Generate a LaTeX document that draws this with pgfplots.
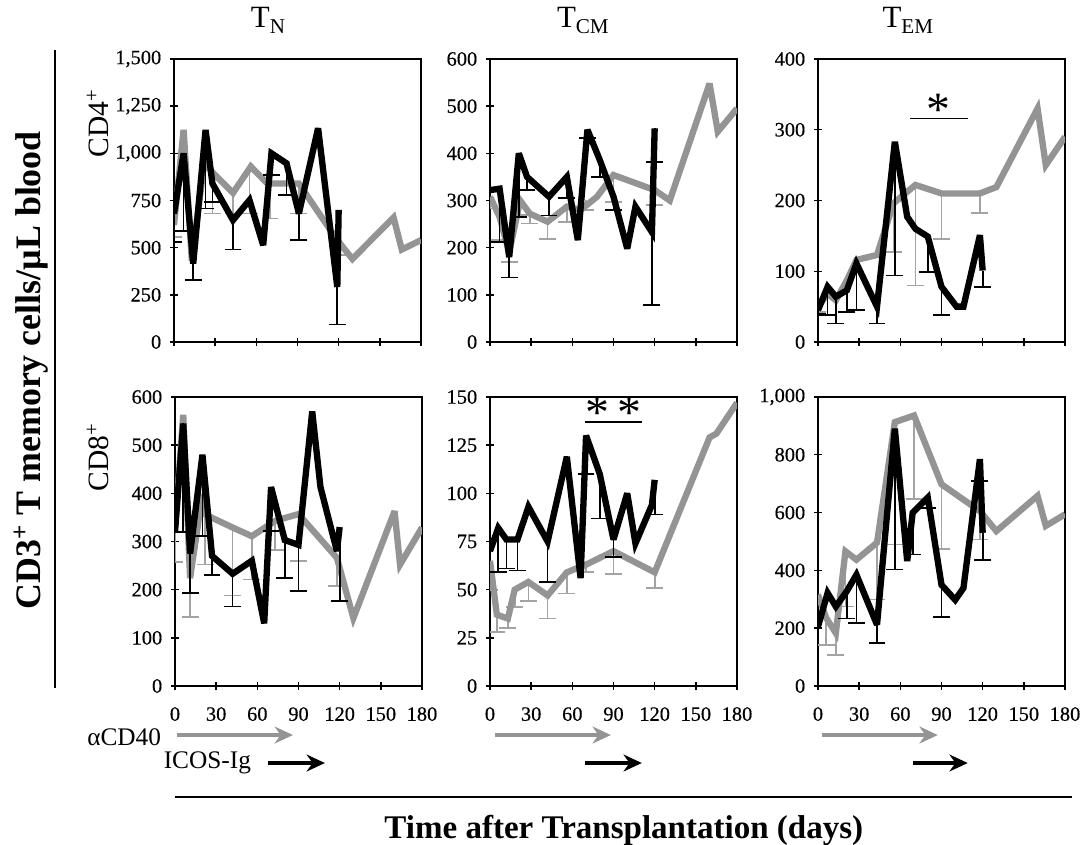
\documentclass[border=0pt]{standalone}
\usepackage{fontspec}
\setmainfont{Liberation Serif}
\newfontfamily\tickfont{Liberation Serif}[FakeBold=0.4]
\usepackage{pgfplots}
\pgfplotsset{compat=1.18}
\usetikzlibrary{arrows.meta}

\definecolor{gline}{gray}{0.58}
\definecolor{gerr}{gray}{0.64}

\pgfplotsset{
  panel/.style={
    scale only axis, width=6.175cm,
    xmin=0, xmax=180, xtick={0,30,...,180},
    tick pos=left, tick align=center,
    major tick length=0.18cm,
    tick style={black, line width=1pt},
    axis line style={black, line width=1.2pt},
    ticklabel style={font=\tickfont\fontsize{14.5}{14.5}\selectfont},
    yticklabel style={xshift=-3pt},
    xticklabel style={yshift=-9pt},
    /pgf/number format/assume math mode=true,
    /pgf/number format/1000 sep={,},
  },
  toprow/.style={panel, height=7.075cm, xticklabels={}},
  botrow/.style={panel, height=7.225cm},
  gl/.style={gline, line width=4.5pt, line join=miter, miter limit=4, mark=none},
  bl/.style={black, line width=4.5pt, line join=miter, miter limit=4, mark=none},
  ge/.style={draw=none, forget plot,
    error bars/.cd, y dir=minus, y explicit, error mark=-,
    error bar style={draw=gerr, line width=1.2pt},
    error mark options={draw=gerr, rotate=90, mark size=6pt, line width=1.2pt}},
  be/.style={draw=none, forget plot,
    error bars/.cd, y dir=minus, y explicit, error mark=-,
    error bar style={draw=black, line width=1.2pt},
    error mark options={draw=black, rotate=90, mark size=6pt, line width=1.2pt}},
}

\begin{document}
\begin{tikzpicture}

% ---------- Panel 1: CD4 TN ----------
\begin{axis}[toprow, at={(4.35cm,12.575cm)}, anchor=south west,
  ymin=0, ymax=1500, ytick={0,250,...,1500}]
\addplot[ge] coordinates {(0,620) +- (0,63) (28,900) +- (0,219) (43,790) +- (0,109)
  (55,930) +- (0,249) (70,840) +- (0,185) (91,840) +- (0,159) (121,540) +- (0,80)};
\addplot[gl] coordinates {(0,620) (7,1124) (13,430) (22,950) (28,900) (43,790) (56,930)
  (68,840) (80,840) (91,840) (104,700) (119,540) (130,440) (160,660) (166,490) (180,540)};
\addplot[be] coordinates {(0,680) +- (0,150) (7,1000) +- (0,411) (14,415) +- (0,88)
  (23,1124) +- (0,416) (28,840) +- (0,97) (43,646) +- (0,156) (71,1000) +- (0,115)
  (82,947) +- (0,168) (91,681) +- (0,141) (119,292) +- (0,200)};
\addplot[bl] coordinates {(0,680) (7,1000) (14,415) (23,1124) (28,840) (43,646) (55,752)
  (65,513) (71,1000) (82,947) (91,681) (105,1133) (119,292) (120,700)};
\end{axis}

% ---------- Panel 2: CD4 TCM ----------
\begin{axis}[toprow, at={(12.25cm,12.575cm)}, anchor=south west,
  ymin=0, ymax=600, ytick={0,100,...,600}]
\addplot[ge] coordinates {(0,308) +- (0,25) (7,265) +- (0,49) (14,190) +- (0,20)
  (22,300) +- (0,31) (29,272) +- (0,21) (42,255) +- (0,37) (56,287) +- (0,32)
  (70,300) +- (0,20) (90,354) +- (0,57) (120,322) +- (0,32)};
\addplot[gl] coordinates {(0,308) (7,265) (14,190) (22,300) (29,272) (42,255) (56,287)
  (66,280) (78,308) (90,354) (120,322) (131,300) (160,548) (166,446) (180,495)};
\addplot[be] coordinates {(7,325) +- (0,113) (14,180) +- (0,43) (21,400) +- (0,135)
  (27,350) +- (0,28) (43,308) +- (0,40) (56,350) +- (0,44) (71,450) +- (0,18)
  (80,386) +- (0,36) (90,308) +- (0,28) (118,233) +- (0,154) (120,453) +- (0,71)};
\addplot[bl] coordinates {(0,322) (7,325) (14,180) (21,400) (27,350) (43,308) (56,350)
  (64,216) (71,450) (80,386) (90,308) (100,198) (106,287) (118,233) (120,453)};
\end{axis}

% ---------- Panel 3: CD4 TEM ----------
\begin{axis}[toprow, at={(20.45cm,12.575cm)}, anchor=south west,
  ymin=0, ymax=400, ytick={0,100,...,400}]
\addplot[ge] coordinates {(0,50) +- (0,8) (7,68) +- (0,30) (21,87) +- (0,45)
  (28,116) +- (0,71) (55,196) +- (0,69) (71,222) +- (0,142) (90,210) +- (0,64)
  (118,210) +- (0,28)};
\addplot[gl] coordinates {(0,50) (7,68) (13,59) (21,87) (28,116) (43,123) (55,196)
  (71,222) (90,210) (118,210) (130,219) (160,330) (166,250) (180,290)};
\addplot[be] coordinates {(0,45) +- (0,5) (7,78) +- (0,40) (13,64) +- (0,38)
  (21,73) +- (0,31) (28,111) +- (0,66) (43,50) +- (0,24) (56,283) +- (0,189)
  (80,149) +- (0,50) (90,78) +- (0,40) (120,101) +- (0,23)};
\addplot[bl] coordinates {(0,45) (7,78) (13,64) (21,73) (28,111) (43,50) (56,283)
  (65,177) (71,160) (80,149) (90,78) (101,50) (106,50) (118,151) (120,101)};
\draw[line width=1.3pt] (axis cs:67,316) -- (axis cs:109,316);
\node[font=\fontsize{34}{34}\selectfont, anchor=south, inner sep=0pt] at (axis cs:88,305) {*};
\end{axis}

% ---------- Panel 4: CD8 TN ----------
\begin{axis}[botrow, at={(4.375cm,3.975cm)}, anchor=south west,
  ymin=0, ymax=600, ytick={0,100,...,600}]
\addplot[ge] coordinates {(0,330) +- (0,73) (11,224) +- (0,81) (22,356) +- (0,104)
  (42,329) +- (0,141) (56,311) +- (0,90) (73,343) +- (0,60) (90,357) +- (0,97)
  (118,266) +- (0,59)};
\addplot[gl] coordinates {(0,330) (6,563) (11,224) (20,398) (22,356) (42,329) (56,311)
  (73,343) (90,357) (118,266) (130,141) (160,363) (164,252) (180,329)};
\addplot[be] coordinates {(6,545) +- (0,225) (11,275) +- (0,82) (20,480) +- (0,169)
  (27,270) +- (0,39) (42,233) +- (0,68) (70,413) +- (0,91) (80,303) +- (0,79)
  (90,293) +- (0,96) (120,330) +- (0,154)};
\addplot[bl] coordinates {(0,320) (6,545) (11,275) (20,480) (27,270) (42,233) (56,260)
  (65,130) (70,413) (80,303) (90,293) (100,570) (106,413) (118,280) (120,330)};
\end{axis}

% ---------- Panel 5: CD8 TCM ----------
\begin{axis}[botrow, at={(12.25cm,3.975cm)}, anchor=south west,
  ymin=0, ymax=150, ytick={0,25,...,150}]
\addplot[ge] coordinates {(0,65) +- (0,15) (5,37) +- (0,9) (13,35) +- (0,5)
  (18,50) +- (0,9) (28,54) +- (0,10) (42,47) +- (0,12) (56,59) +- (0,11)
  (70,63) +- (0,4) (90,70) +- (0,12) (120,59) +- (0,8)};
\addplot[gl] coordinates {(0,65) (5,37) (13,35) (18,50) (28,54) (42,47) (56,59)
  (70,63) (90,70) (120,59) (160,129) (165,131) (180,147)};
\addplot[be] coordinates {(6,82) +- (0,23) (12,76) +- (0,15) (20,76) +- (0,16)
  (42,75) +- (0,21) (70,130) +- (0,20) (80,110) +- (0,23) (90,76) +- (0,9)
  (120,107) +- (0,18)};
\addplot[bl] coordinates {(0,70) (6,82) (12,76) (20,76) (28,93) (42,75) (56,119)
  (66,56) (70,130) (80,110) (90,76) (100,100) (106,74) (118,94) (120,107)};
\draw[line width=1.3pt] (axis cs:69,137) -- (axis cs:111,137);
\node[font=\fontsize{34}{34}\selectfont, anchor=south, inner sep=0pt] at (axis cs:90,133.5) {*\,*};
\end{axis}

% ---------- Panel 6: CD8 TEM ----------
\begin{axis}[botrow, at={(20.45cm,3.975cm)}, anchor=south west,
  ymin=0, ymax=1000, ytick={0,200,...,1000}]
\addplot[ge] coordinates {(0,316) +- (0,33) (6,235) +- (0,93) (13,183) +- (0,76)
  (20,466) +- (0,191) (43,496) +- (0,197) (56,913) +- (0,423) (70,936) +- (0,290)
  (90,698) +- (0,225) (118,605) +- (0,98)};
\addplot[gl] coordinates {(0,316) (6,235) (13,183) (20,466) (28,437) (43,496) (56,913)
  (70,936) (90,698) (118,605) (130,536) (160,658) (166,554) (180,594)};
\addplot[be] coordinates {(21,328) +- (0,94) (28,385) +- (0,168) (43,212) +- (0,64)
  (56,890) +- (0,487) (69,600) +- (0,145) (80,652) +- (0,35) (90,350) +- (0,112)
  (118,785) +- (0,75) (120,530) +- (0,95)};
\addplot[bl] coordinates {(0,206) (7,322) (13,275) (21,328) (28,385) (43,212) (56,890)
  (65,432) (69,600) (80,652) (90,350) (100,298) (106,339) (118,785) (120,530)};
\end{axis}

\begin{scope}[x=0.025cm, y=0.025cm]
% ---------- Titles and labels ----------
\node[font=\fontsize{22}{22}\selectfont] at (268,825) {T\raisebox{-0.45ex}{\fontsize{15}{15}\selectfont N}};
\node[font=\fontsize{22}{22}\selectfont] at (583,825) {T\raisebox{-0.45ex}{\fontsize{15}{15}\selectfont CM}};
\node[font=\fontsize{22}{22}\selectfont] at (908,825) {T\raisebox{-0.45ex}{\fontsize{15}{15}\selectfont EM}};

\node[rotate=90, font=\fontsize{21}{21}\selectfont] at (98,722) {CD4\textsuperscript{+}};
\node[rotate=90, font=\fontsize{21}{21}\selectfont] at (98,388) {CD8\textsuperscript{+}};

\node[rotate=90, font=\fontsize{25.5}{25.5}\selectfont\bfseries] at (31,475) {CD3\textsuperscript{+} T memory cells/µL blood};
\draw[line width=1.3pt] (55,795) -- (55,157);

% treatment arrows
\node[font=\fontsize{18}{18}\selectfont, anchor=east] at (166,108) {αCD40};
\node[font=\fontsize{18}{18}\selectfont, anchor=east] at (256,82) {ICOS-Ig};
\foreach \a in {177,495,822}{
  \draw[gline, line width=2.4pt, -{Stealth[length=13pt,width=12pt]}] (\a,110) -- (\a+116,110);
}
\foreach \a/\b in {268/325,585/642,913/968}{
  \draw[black, line width=2.4pt, -{Stealth[length=13pt,width=12pt]}] (\a,82) -- (\b,82);
}
\draw[line width=1.6pt] (175,48) -- (1072,48);
\node[font=\fontsize{23.5}{23.5}\selectfont\bfseries] at (624,15) {Time after Transplantation (days)};
\end{scope}

\pgfresetboundingbox
\useasboundingbox (0,0) rectangle (27.15cm,21.125cm);
\end{tikzpicture}
\end{document}
